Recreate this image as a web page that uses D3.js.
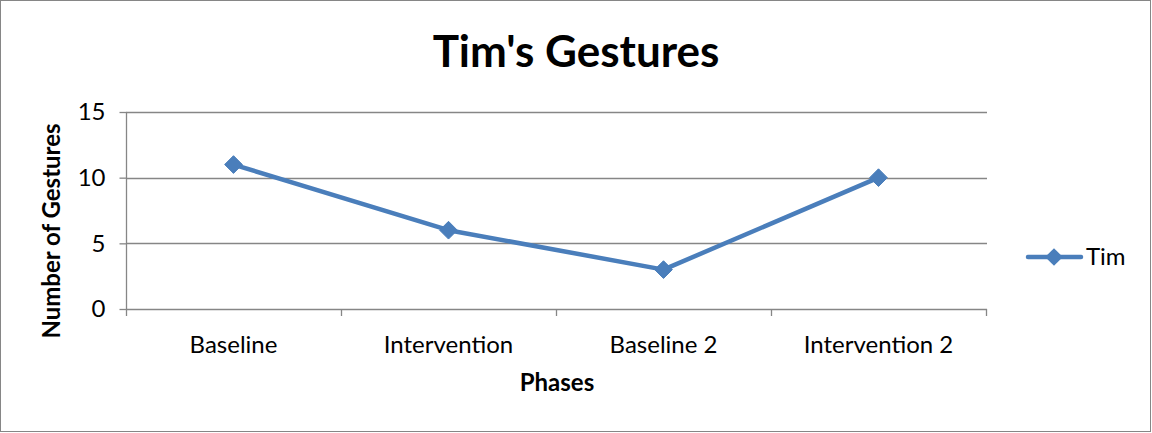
<!DOCTYPE html>
<html>
<head>
<meta charset="utf-8">
<script src="https://cdn.jsdelivr.net/npm/d3@7"></script>
<style>
  body { margin: 0; background: #fff; }
  svg { display: block; font-family: Lato, 'Open Sans', sans-serif; }
</style>
</head>
<body>
<svg id="chart" width="1152" height="433"></svg>
<script>
const phases = ['Baseline', 'Intervention', 'Baseline 2', 'Intervention 2'];
const timValues = [11, 6, 3, 10];
const yTicks = [0, 5, 10, 15];

const svg = d3.select('#chart');
const plotLeft = 126, plotRight = 986, plotTop = 112, plotBottom = 309;
const blue = '#4a7ebb';
const grey = '#868686';
const labelSize = 24;

svg.append('rect')
  .attr('x', 0.5).attr('y', 0.5)
  .attr('width', 1150).attr('height', 431)
  .attr('fill', '#fff').attr('stroke', grey).attr('stroke-width', 1);

const x = d3.scaleBand().domain(phases).range([plotLeft, plotRight]);
const y = d3.scaleLinear().domain([0, 15]).range([plotBottom, plotTop]);

// gridlines
svg.append('g')
  .selectAll('line')
  .data(yTicks)
  .join('line')
  .attr('x1', plotLeft).attr('x2', plotRight + 1)
  .attr('y1', d => Math.round(y(d)) + 0.5).attr('y2', d => Math.round(y(d)) + 0.5)
  .attr('stroke', grey).attr('stroke-width', 1.3);

// y axis
const yAxis = svg.append('g')
  .attr('transform', `translate(${plotLeft + 0.5},0)`)
  .call(d3.axisLeft(y).tickValues(yTicks).tickSize(7).tickPadding(14));
yAxis.select('.domain').attr('stroke', grey).attr('stroke-width', 1.3)
  .attr('d', `M0,${plotTop}V${plotBottom + 1}`);
yAxis.selectAll('.tick line').attr('stroke', grey).attr('stroke-width', 1.3);
yAxis.selectAll('.tick text')
  .attr('font-size', labelSize).attr('fill', '#000')
  .attr('font-family', 'Lato, sans-serif');

// x axis tick marks at band boundaries
const bounds = phases.map(p => x(p)).concat([plotRight]);
svg.append('g')
  .selectAll('line')
  .data(bounds)
  .join('line')
  .attr('x1', d => Math.round(d) + 0.5).attr('x2', d => Math.round(d) + 0.5)
  .attr('y1', plotBottom).attr('y2', plotBottom + 7)
  .attr('stroke', grey).attr('stroke-width', 1.3);

svg.append('g')
  .selectAll('text')
  .data(phases)
  .join('text')
  .attr('x', d => x(d) + x.bandwidth() / 2)
  .attr('y', 353)
  .attr('text-anchor', 'middle')
  .attr('font-size', labelSize)
  .text(d => d);

// line series
const pts = phases.map((p, i) => [x(p) + x.bandwidth() / 2, y(timValues[i])]);
svg.append('path')
  .attr('d', d3.line()(pts))
  .attr('fill', 'none').attr('stroke', blue).attr('stroke-width', 4.5)
  .attr('stroke-linejoin', 'round');

const diamond = d3.symbol().type(d3.symbolDiamond2).size(200);
svg.append('g')
  .selectAll('path')
  .data(pts)
  .join('path')
  .attr('transform', d => `translate(${d[0]},${d[1]})`)
  .attr('d', diamond)
  .attr('fill', blue).attr('stroke', blue).attr('stroke-width', 1);

// titles
svg.append('text')
  .attr('x', 576).attr('y', 67)
  .attr('text-anchor', 'middle')
  .attr('font-size', 44).attr('font-weight', 'bold')
  .text("Tim's Gestures");

svg.append('text')
  .attr('x', 557).attr('y', 391)
  .attr('text-anchor', 'middle')
  .attr('font-size', labelSize).attr('font-weight', 'bold')
  .text('Phases');

svg.append('text')
  .attr('transform', 'translate(60,231) rotate(-90)')
  .attr('text-anchor', 'middle')
  .attr('font-size', labelSize).attr('font-weight', 'bold')
  .text('Number of Gestures');

// legend
const legY = 257;
svg.append('line')
  .attr('x1', 1028).attr('x2', 1081)
  .attr('y1', legY).attr('y2', legY)
  .attr('stroke', blue).attr('stroke-width', 4.5).attr('stroke-linecap', 'round');
svg.append('path')
  .attr('transform', `translate(1054,${legY})`)
  .attr('d', diamond)
  .attr('fill', blue);
svg.append('text')
  .attr('x', 1086).attr('y', legY + 8)
  .attr('font-size', labelSize)
  .text('Tim');
</script>
</body>
</html>
